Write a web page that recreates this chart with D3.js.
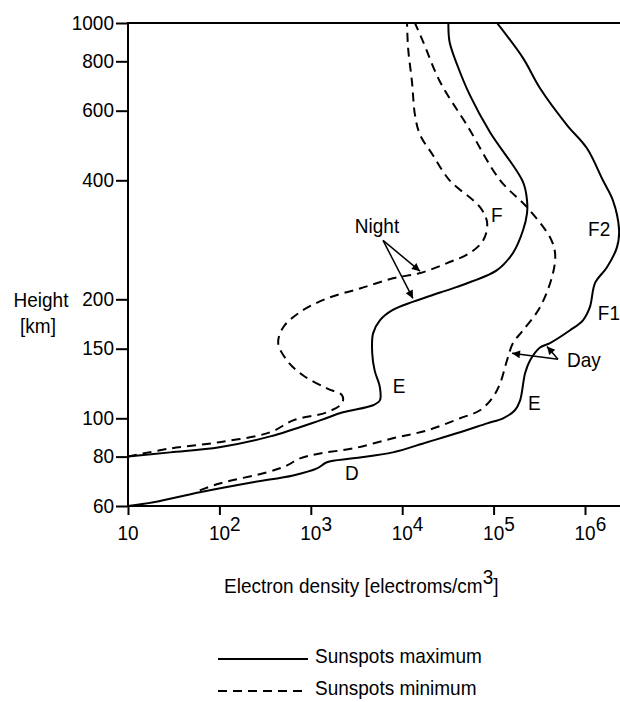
<!DOCTYPE html>
<html lang="en">

<head>
    <meta charset="UTF-8">
    <title>Electron density profiles</title>
    <script src="https://cdnjs.cloudflare.com/ajax/libs/d3/7.8.5/d3.min.js"></script>
    <style>
        body {
            margin: 0;
            background: white;
        }

        svg {
            display: block;
            font-family: "Liberation Sans", Arial, sans-serif;
        }

        .curve {
            fill: none;
            stroke: black;
            stroke-width: 2;
        }

        .dashed {
            stroke-dasharray: 9, 6;
        }

        .ann {
            font-size: 19px;
        }
    </style>
</head>

<body>
    <div class="chart"></div>
    <script>
        // [electron density (per cm3), height (km)]
        const dayMax = [
            [10, 60], [19, 61.3], [61, 65], [233, 68.9], [640, 71.7], [1170, 74.7], [1500, 77.4],
            [2900, 79.2], [7900, 82], [18700, 87], [43000, 92.2], [85000, 97.1], [1.27e5, 100],
            [1.71e5, 104.8], [1.95e5, 111], [2.21e5, 130], [2.5e5, 140], [3.22e5, 151], [4.14e5, 155],
            [6.86e5, 167], [9.5e5, 177], [1.13e6, 191], [1.29e6, 220], [1.74e6, 241], [2.24e6, 271],
            [2.36e6, 299], [2.02e6, 356], [1.57e6, 400], [1.05e6, 482], [6.35e5, 552], [3.22e5, 684],
            [2.1e5, 815], [1.09e5, 1000]
        ];
        const dayMin = [
            [61, 65.7], [100, 68.4], [330, 73], [550, 76], [760, 79.2], [1260, 81.5], [2900, 83.9],
            [7900, 89], [18700, 93.2], [43000, 100], [71000, 104.8], [98000, 113], [1.18e5, 122.6],
            [1.4e5, 140], [1.63e5, 155], [2.1e5, 167], [3.22e5, 191], [4.47e5, 233], [4.7e5, 262],
            [4.14e5, 287], [2.32e5, 342], [1.18e5, 400], [51000, 552], [26000, 709], [17000, 895],
            [13800, 1000]
        ];
        const nightMax = [
            [10, 80], [29, 82], [100, 84.5], [360, 90], [1260, 98.8], [2250, 103.6], [4800, 107.9],
            [5700, 111], [5700, 119.8], [5000, 132], [4700, 146], [4800, 164], [5700, 177], [7900, 188],
            [13000, 197], [26000, 208], [39800, 215], [1.09e5, 237], [1.63e5, 262], [2.1e5, 299],
            [2.32e5, 330], [2.32e5, 356], [2.1e5, 396], [91000, 530], [55000, 657], [40000, 783],
            [33000, 895], [32000, 1000]
        ];
        const nightMin = [
            [10, 80], [29, 83.9], [100, 87], [360, 92.2], [640, 98.8], [1500, 103.6],
            [2200, 109.2], [2200, 114.3], [1500, 119.1], [820, 128.5], [550, 140], [440, 155], [500, 170],
            [760, 185.5], [1500, 201], [3450, 213], [7900, 226], [15700, 233], [31000, 247], [55000, 262],
            [77000, 282], [85000, 312], [71000, 342], [33000, 400], [21700, 463], [15700, 521],
            [13800, 585], [12800, 709], [11600, 865], [11300, 1000]
        ];

        const xTicks = [10, 1e2, 1e3, 1e4, 1e5, 1e6];
        const yTicks = [60, 80, 100, 150, 200, 400, 600, 800, 1000];
        const seriesNames = ['Sunspots maximum', 'Sunspots minimum'];

        // layer labels: text, density, height (at text baseline, left edge)
        const layerLabels = [
            ['F', 93800, 313], ['F2', 1.08e6, 290], ['F1', 1.38e6, 177], ['E', 7900, 115.7],
            ['E', 2.38e5, 104.8], ['D', 2370, 69.7], ['Day', 6.35e5, 134.6]
        ];
        // pointer arrows: [from, to]
        const arrows = [
            [[6170, 282], [15650, 235.6]], [[6170, 282], [13100, 201]],
            [[5.07e5, 141.1], [1.59e5, 146]], [[5.07e5, 141.1], [3.84e5, 152]]
        ];

        const width = 620;
        const height = 702;

        const x = d3.scaleLog().domain([10, 1e6]).range([128, 585]);
        const y = d3.scaleLog().domain([60, 1000]).range([506, 23]);

        const svg = d3.select('.chart')
            .append('svg')
            .attr('width', width)
            .attr('height', height);

        svg.append('defs').append('clipPath')
            .attr('id', 'plot')
            .append('rect')
            .attr('x', x(10))
            .attr('y', y(1000))
            .attr('width', width - x(10))
            .attr('height', y(60) - y(1000));

        const marker = svg.select('defs').append('marker')
            .attr('id', 'head')
            .attr('markerUnits', 'userSpaceOnUse')
            .attr('viewBox', '0 0 10 10')
            .attr('refX', 10)
            .attr('refY', 5)
            .attr('markerWidth', 11)
            .attr('markerHeight', 8)
            .attr('orient', 'auto');
        marker.append('path').attr('d', 'M0,0L10,5L0,10Z').attr('fill', 'black');

        const line = d3.line()
            .x(d => x(d[0]))
            .y(d => y(d[1]))
            .curve(d3.curveCatmullRom.alpha(0.5));

        const curves = [
            { data: dayMax, dashed: false },
            { data: dayMin, dashed: true },
            { data: nightMax, dashed: false },
            { data: nightMin, dashed: true }
        ];

        svg.append('g')
            .attr('clip-path', 'url(#plot)')
            .selectAll('path')
            .data(curves)
            .enter()
            .append('path')
            .attr('class', d => d.dashed ? 'curve dashed' : 'curve')
            .attr('d', d => line(d.data));

        // axes
        const xAxis = svg.append('g')
            .attr('transform', `translate(0,${y(60)})`)
            .call(d3.axisBottom(x).tickValues(xTicks).tickSize(9).tickSizeOuter(0).tickFormat(''));
        xAxis.select('.domain').remove();
        xAxis.selectAll('line').attr('stroke-width', 2);

        const yAxis = svg.append('g')
            .attr('transform', `translate(${x(10)},0)`)
            .call(d3.axisLeft(y).tickValues(yTicks).tickSize(12).tickSizeOuter(0).tickFormat(d3.format('d')));
        yAxis.select('.domain').remove();
        yAxis.selectAll('line').attr('stroke-width', 2);
        yAxis.selectAll('text')
            .attr('font-family', null)
            .attr('font-size', 19)
            .attr('x', -14)
            .attr('y', 6)
            .attr('dy', null);

        svg.append('line')
            .attr('x1', x(10)).attr('x2', width)
            .attr('y1', y(60)).attr('y2', y(60))
            .attr('stroke', 'black').attr('stroke-width', 2);
        svg.append('line')
            .attr('x1', x(10)).attr('x2', width)
            .attr('y1', y(1000)).attr('y2', y(1000))
            .attr('stroke', 'black').attr('stroke-width', 2);
        svg.append('line')
            .attr('x1', x(10)).attr('x2', x(10))
            .attr('y1', y(1000) - 1).attr('y2', y(60) + 1)
            .attr('stroke', 'black').attr('stroke-width', 2);

        // x tick labels with superscript exponents
        const xl = svg.selectAll('.xlab')
            .data(xTicks)
            .enter()
            .append('text')
            .attr('class', 'ann')
            .attr('x', d => x(d) - 10.5)
            .attr('y', 540)
            .text('10');
        xl.filter(d => d > 10)
            .append('tspan')
            .attr('dy', -8)
            .text(d => Math.round(Math.log10(d)));

        // axis titles
        svg.append('text').attr('class', 'ann')
            .attr('x', 41).attr('y', 307).attr('text-anchor', 'middle').text('Height');
        svg.append('text').attr('class', 'ann')
            .attr('x', 38).attr('y', 333).attr('text-anchor', 'middle').text('[km]');

        const xt = svg.append('text').attr('class', 'ann')
            .attr('x', 224).attr('y', 593);
        xt.append('tspan').text('Electron density [electroms/cm');
        xt.append('tspan').attr('dy', -8).text('3');
        xt.append('tspan').attr('dy', 8).text(']');

        // annotations
        svg.selectAll('.lab')
            .data(layerLabels)
            .enter()
            .append('text')
            .attr('class', 'ann')
            .attr('x', d => x(d[1]))
            .attr('y', d => y(d[2]))
            .text(d => d[0]);

        svg.append('text').attr('class', 'ann')
            .attr('x', x(5300)).attr('y', y(294))
            .attr('text-anchor', 'middle')
            .text('Night');

        svg.selectAll('.arrow')
            .data(arrows)
            .enter()
            .append('line')
            .attr('x1', d => x(d[0][0]))
            .attr('y1', d => y(d[0][1]))
            .attr('x2', d => x(d[1][0]))
            .attr('y2', d => y(d[1][1]))
            .attr('stroke', 'black')
            .attr('stroke-width', 1.5)
            .attr('marker-end', 'url(#head)');

        // legend
        const legend = svg.selectAll('.legend')
            .data(seriesNames)
            .enter()
            .append('g')
            .attr('transform', (d, i) => `translate(218,${659 + i * 32})`);
        legend.append('line')
            .attr('class', (d, i) => i ? 'curve dashed' : 'curve')
            .attr('x1', 0).attr('x2', 90);
        legend.append('text')
            .attr('class', 'ann')
            .attr('x', 97)
            .attr('y', 4)
            .text(d => d);

        // the original lettering is a little taller than it is wide: stretch about the baseline
        svg.selectAll('text').each(function() {
            const by = +this.getAttribute('y') || 0;
            this.setAttribute('transform', `matrix(1,0,0,1.1,0,${-0.1 * by})`);
        });
    </script>
</body>

</html>
